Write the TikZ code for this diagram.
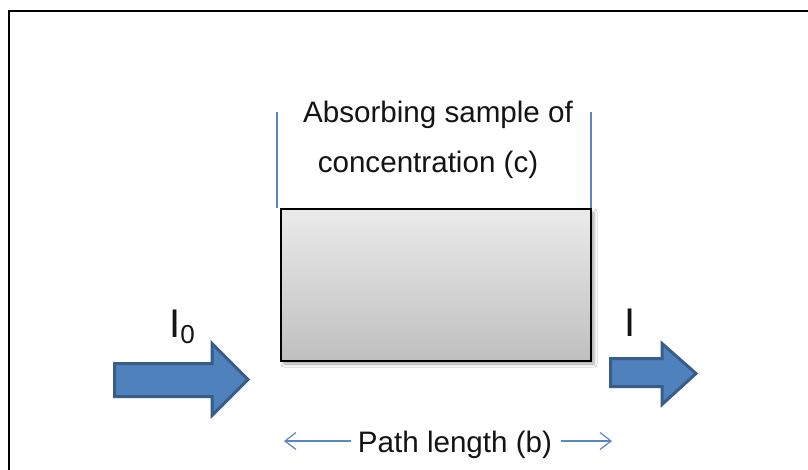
\documentclass[tikz,border=0pt]{standalone}
\usepackage{fontspec}
\setmainfont{Liberation Sans}
\usetikzlibrary{arrows.meta,shadows.blur}
\definecolor{beamfill}{HTML}{4F81BD}
\definecolor{beamedge}{HTML}{385D8A}
\definecolor{guide}{HTML}{5B87C0}
\definecolor{inktext}{HTML}{141414}
\tikzset{
  beam/.style={fill=beamfill, draw=beamedge, line width=3pt, line join=miter},
  caption/.style={font=\fontsize{29.6}{35}\selectfont, text=inktext, inner sep=0pt},
  intensity/.style={font=\fontsize{40}{44}\selectfont, text=inktext, inner sep=0pt, anchor=base west},
  guideline/.style={draw=guide, line width=1.4pt},
  lengtharrow/.style={draw=guide, line width=1.2pt, -{Straight Barb[length=11pt,width=17pt,line width=1.2pt]}},
  sample/.style={draw=black, line width=2pt, top color=black!8, bottom color=black!25, inner sep=0pt,
    blur shadow={shadow xshift=3pt, shadow yshift=-3pt, shadow blur radius=3pt, shadow opacity=35}},
}
\begin{document}
\begin{tikzpicture}[x=1pt,y=-1pt]
  \useasboundingbox (0,0) rectangle (808,470);
  \fill[white] (0,0) rectangle (808,470);

  % frame edges
  \draw[black, line width=2pt] (9,470) -- (9,11.5) -- (808,11.5);

  % sample cell
  \node[sample, minimum width=310pt, minimum height=152pt] (cell) at (436,285) {};

  % guide lines above the cell
  \coordinate (gl) at (277,112);
  \coordinate (gr) at (591,112);
  \draw[guideline] (gl) -- (gl |- cell.north);
  \draw[guideline] (gr) -- (gr |- cell.north);

  % cell caption
  \node[caption, anchor=base] (cap1) at (438,123) {Absorbing sample of};
  \node[caption, anchor=base] (cap2) at (428,173) {concentration (c)};

  % incident beam
  \draw[beam] (114.5,363.5) -- (212,363.5) -- (212,343.5) -- (248,379.5) -- (212,415.5)
    -- (212,396.5) -- (114.5,396.5) -- cycle;
  \node[intensity] (inlabel) at (169,337) {I\raisebox{-6pt}{\fontsize{26}{28}\selectfont 0}};

  % transmitted beam
  \draw[beam] (610.5,358.5) -- (662,358.5) -- (662,343.5) -- (696,373.5) -- (662,404.5)
    -- (662,386.5) -- (610.5,386.5) -- cycle;
  \node[intensity] (outlabel) at (624,336) {I};

  % path length
  \node[caption, anchor=base] (len) at (455,452) {Path length (b)};
  \coordinate (lenl) at (284,441);
  \coordinate (lenr) at (612,441);
  \draw[lengtharrow] ([xshift=-7pt]len.west |- lenl) -- (lenl);
  \draw[lengtharrow] ([xshift=9pt]len.east |- lenr) -- (lenr);
\end{tikzpicture}
\end{document}
